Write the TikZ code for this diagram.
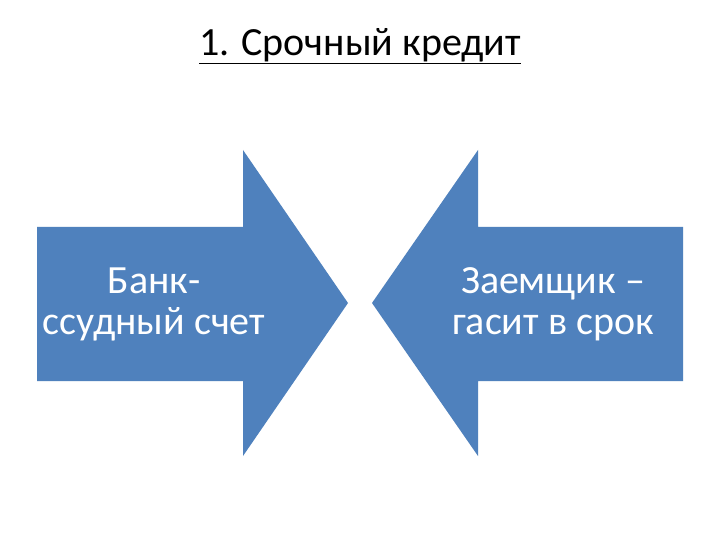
\documentclass[tikz,border=0pt]{standalone}
\usepackage{fontspec}
\setmainfont{Carlito}
\definecolor{arrowblue}{HTML}{4F81BD}
\begin{document}
\begin{tikzpicture}[x=1pt,y=-1pt,
  blockarrow/.style={fill=arrowblue,draw=none},
  arrowtext/.style={text=white,font=\fontsize{40}{41}\selectfont,align=center}]
\useasboundingbox (0,0) rectangle (720,540);
\fill[white] (0,0) rectangle (720,540);
\node (title) at (360,46) {\fontsize{40}{44}\selectfont\underline{1. Срочный кредит}};
\fill[blockarrow] (37,227) -- (243,227) -- (243,150) -- (348,303) -- (243,456) -- (243,381) -- (37,381) -- cycle;
\fill[blockarrow] (683,227) -- (478,227) -- (478,150) -- (372,303) -- (478,456) -- (478,381) -- (683,381) -- cycle;
\node[arrowtext] (left) at (154,304) {Банк-\\ссудный счет};
\node[arrowtext] (right) at (553,304) {Заемщик –\\гасит в срок};
\end{tikzpicture}
\end{document}
